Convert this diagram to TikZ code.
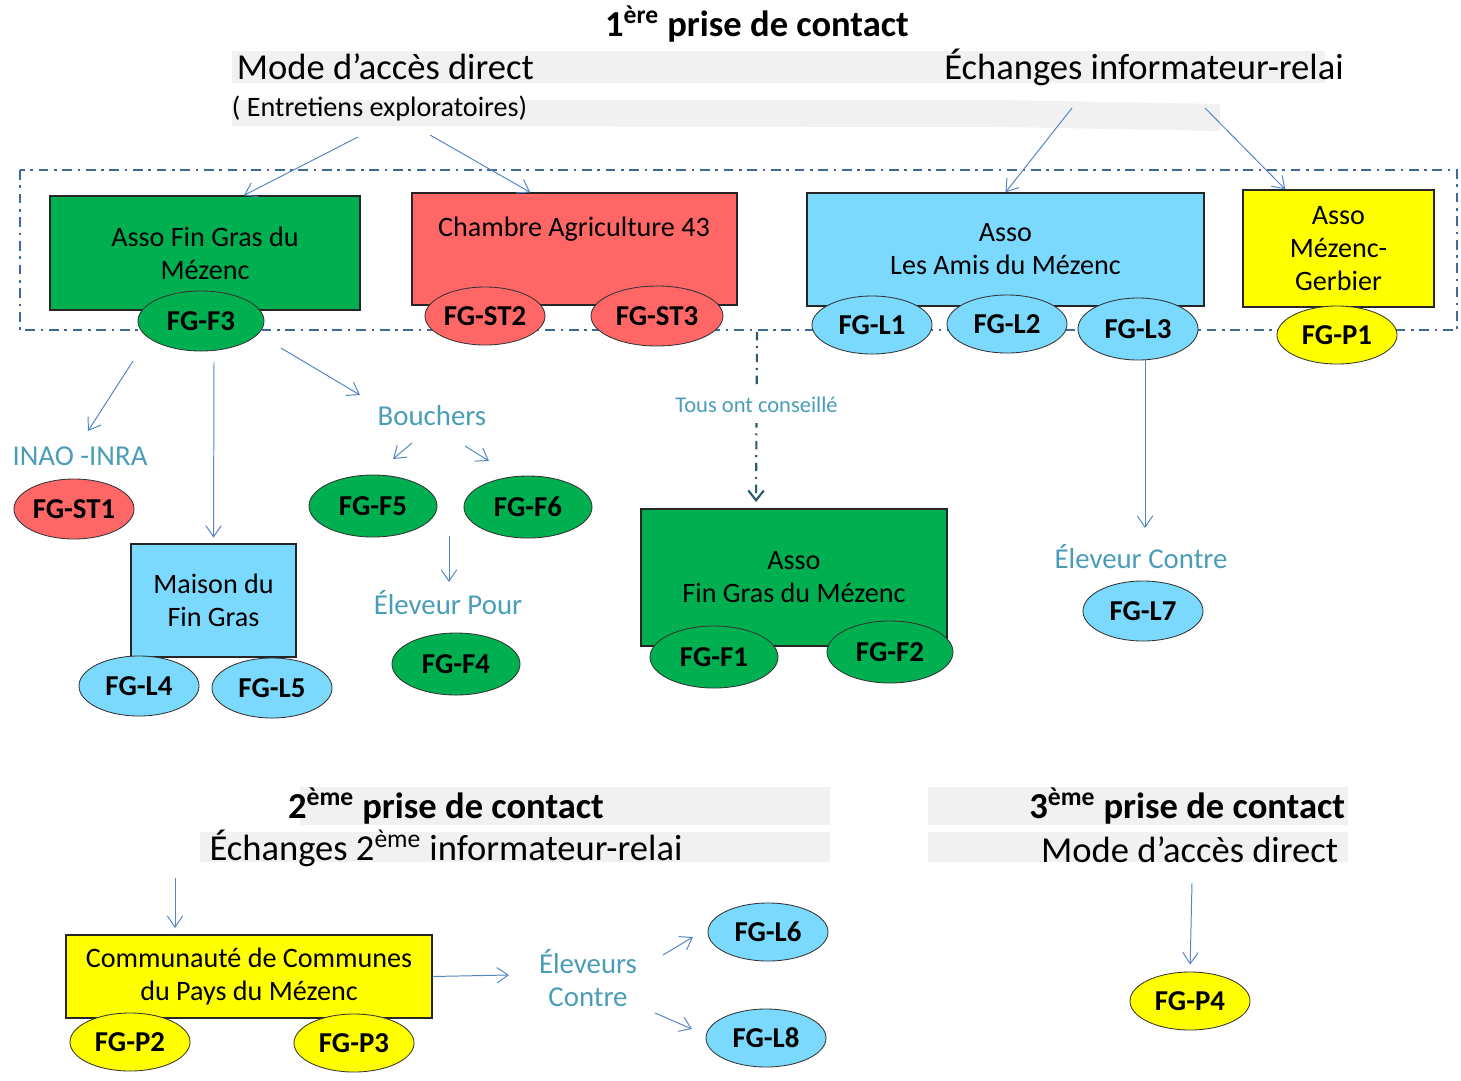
\documentclass[tikz,border=0pt]{standalone}
\usepackage{fontspec}
\setmainfont{Carlito}
\usetikzlibrary{shapes.geometric,arrows.meta}
\definecolor{greenfg}{HTML}{00B050}
\definecolor{redfg}{HTML}{FF6666}
\definecolor{bluefg}{HTML}{7AD9FC}
\definecolor{yellowfg}{HTML}{FFFF00}
\definecolor{tealtxt}{HTML}{4A9DB8}
\definecolor{arrblue}{HTML}{5585C4}
\definecolor{boxblue}{HTML}{3F6A98}
\definecolor{darkteal}{HTML}{2B5A68}
\definecolor{bandgray}{HTML}{F1F1F1}

\begin{document}
\begin{tikzpicture}[x=0.025cm,y=-0.025cm,
    box/.style={draw=black!85, line width=0.9pt, align=center, inner sep=0pt,
        font=\fontsize{20}{23.5}\selectfont},
    fg/.style={ellipse, draw=black!80, line width=0.6pt, inner sep=0pt,
        minimum width=3cm, minimum height=1.5cm, font=\fontsize{20.5}{24}\selectfont\bfseries},
    fgw/.style={fg, minimum width=3.2cm, minimum height=1.55cm},
    lbl/.style={text=tealtxt, align=center, font=\fontsize{20.5}{23.5}\selectfont},
    head/.style={font=\fontsize{26}{30}\selectfont},
    headb/.style={font=\fontsize{26}{30}\selectfont\bfseries},
    arr/.style={draw=arrblue, line width=0.7pt, -{Straight Barb[length=8pt,width=11pt]}}]
    \useasboundingbox (0,0) rectangle (1461,1080);
    % grey bands behind the headings
    \fill[bandgray] (232,51) rectangle (1325,83);
    \fill[bandgray] (232,100) -- (1000,100) -- (1220,104) -- (1220,131) -- (1000,127) -- (232,126) -- cycle;
    \fill[bandgray] (300,787) rectangle (830,825);
    \fill[bandgray] (200,832) rectangle (830,862);
    \fill[bandgray] (928,787) rectangle (1348,825);
    \fill[bandgray] (928,832) rectangle (1348,862);
    % 1ere prise de contact
    \node[headb] (t1) at (757,24) {1\textsuperscript{ère} prise de contact};
    \node[head, anchor=west] (mad1) at (232,67) {Mode d’accès direct};
    \node[head] (eir) at (1144,67) {Échanges informateur-relai};
    \node[anchor=west, font=\fontsize{20}{24}\selectfont] (ent) at (227,108) {( Entretiens exploratoires)};
    \draw[boxblue, line width=1.5pt, dash pattern=on 7pt off 4pt on 1.8pt off 4pt] (20,170) rectangle (1457,330);
    % structures
    \node[box, fill=greenfg, minimum width=7.75cm, minimum height=2.85cm] (fgm) at (205,253) {Asso Fin Gras du\\Mézenc};
    \node[box, fill=redfg, minimum width=8.125cm, minimum height=2.8cm] (cha) at (574.5,249) {};
    \node[font=\fontsize{20}{24}\selectfont] (chat) at (574,229) {Chambre Agriculture 43};
    \node[box, fill=bluefg, minimum width=9.925cm, minimum height=2.825cm] (ami) at (1005.5,249.5) {Asso\\Les Amis du Mézenc};
    \node[box, fill=yellowfg, minimum width=4.775cm, minimum height=2.925cm] (meg) at (1338.5,248.5) {Asso\\Mézenc-\\Gerbier};
    \node[fg, fill=greenfg, minimum width=3.15cm] (f3) at (201,321) {FG-F3};
    \node[fg, fill=redfg, minimum height=1.45cm] (st2) at (485,316) {FG-ST2};
    \node[fg, fill=redfg, minimum width=3.3cm] (st3) at (657,316) {FG-ST3};
    \node[fg, fill=bluefg, minimum height=1.45cm] (l1) at (872,325) {FG-L1};
    \node[fg, fill=bluefg, minimum height=1.45cm] (l2) at (1007,324) {FG-L2};
    \node[fg, fill=bluefg, minimum height=1.55cm] (l3) at (1138,329) {FG-L3};
    \node[fg, fill=yellowfg, minimum height=1.45cm] (p1) at (1337,335) {FG-P1};
    % sous la 1ere prise
    \node[lbl] (inao) at (80,456) {INAO -INRA};
    \node[fg, fill=redfg] (st1) at (74,509) {FG-ST1};
    \node[box, fill=bluefg, minimum width=4.125cm, minimum height=2.825cm] (mai) at (213.5,600.5) {Maison du\\Fin Gras};
    \node[fg, fill=bluefg] (l4) at (139,686) {FG-L4};
    \node[fg, fill=bluefg] (l5) at (272,688) {FG-L5};
    \node[lbl] (bou) at (432,416) {Bouchers};
    \node[fgw, fill=greenfg] (f5) at (373,506) {FG-F5};
    \node[fgw, fill=greenfg] (f6) at (528,507) {FG-F6};
    \node[lbl] (epo) at (448,603) {Éleveur Pour};
    \node[fgw, fill=greenfg] (f4) at (456,664) {FG-F4};
    \node[box, fill=greenfg, minimum width=7.65cm, minimum height=3.425cm] (fgm2) at (794,577.5) {Asso\\Fin Gras du Mézenc};
    \node[fgw, fill=greenfg] (f1) at (714,657) {FG-F1};
    \node[fgw, fill=greenfg, minimum width=3.15cm] (f2) at (890,652) {FG-F2};
    \node[lbl] (eco) at (1141,557) {Éleveur Contre};
    \node[fg, fill=bluefg] (l7) at (1143,611) {FG-L7};
    % 2eme et 3eme prise de contact
    \node[headb] (t2) at (446,806) {2\textsuperscript{ème} prise de contact};
    \node[head] (e2) at (446,848) {Échanges 2\textsuperscript{ème} informateur-relai};
    \node[headb, anchor=east] (t3) at (1350,806) {3\textsuperscript{ème} prise de contact};
    \node[head, anchor=east] (mad3) at (1343,850) {Mode d’accès direct};
    \node[box, fill=yellowfg, minimum width=9.15cm, minimum height=2.075cm] (ccm) at (249,976.5) {Communauté de Communes\\du Pays du Mézenc};
    \node[fg, fill=yellowfg, minimum height=1.45cm] (p2) at (130,1042) {FG-P2};
    \node[fg, fill=yellowfg, minimum height=1.45cm] (p3) at (354,1043) {FG-P3};
    \node[lbl] (elc) at (588,978) {Éleveurs\\Contre};
    \node[fg, fill=bluefg, minimum height=1.45cm] (l6) at (768,932) {FG-L6};
    \node[fg, fill=bluefg, minimum height=1.45cm] (l8) at (766,1038) {FG-L8};
    \node[fg, fill=yellowfg, minimum height=1.45cm] (p4) at (1190,1001) {FG-P4};
    % free ends of the arrows
    \coordinate (h1) at (358,137);
    \coordinate (h2) at (430,135);
    \coordinate (h3) at (1072,108);
    \coordinate (h4) at (1205,108);
    \coordinate (a5s) at (133,361);
    \coordinate (a5e) at (88,431);
    \coordinate (a6s) at (214,362);
    \coordinate (a7s) at (281,348);
    \coordinate (a7e) at (360,395);
    \coordinate (a8s) at (412,443);
    \coordinate (a8e) at (393,459);
    \coordinate (a9s) at (465,446);
    \coordinate (a9e) at (489,461);
    \coordinate (a10s) at (449,536);
    \coordinate (a10e) at (449,582);
    \coordinate (tous1) at (757,332);
    \coordinate (tous2) at (756,502);
    \coordinate (a12s) at (1145,360);
    \coordinate (a12e) at (1145,528);
    \coordinate (a13s) at (175,878);
    \coordinate (a13e) at (175,928);
    \coordinate (a14e) at (509,975);
    \coordinate (a15s) at (663,955);
    \coordinate (a15e) at (693,937);
    \coordinate (a16s) at (655,1013);
    \coordinate (a16e) at (692,1029);
    \coordinate (a17s) at (1192,883);
    % arrows
    \draw[arr] (h1) -- (fgm.56);
    \draw[arr] (h2) -- (cha.128);
    \draw[arr] (h3) -- (ami.north);
    \draw[arr] (h4) -- (meg.132);
    \draw[arr] (a5s) -- (a5e);
    \draw[arr, shorten >=4pt] (a6s) -- (mai.north);
    \draw[arr] (a7s) -- (a7e);
    \draw[arr] (a8s) -- (a8e);
    \draw[arr] (a9s) -- (a9e);
    \draw[arr] (a10s) -- (a10e);
    \draw[darkteal, line width=1.5pt, dash pattern=on 6pt off 4pt on 1.5pt off 4pt,
        -{Straight Barb[length=7pt,width=11pt,line width=1.5pt]}] (tous1) -- (tous2)
        node[pos=0.43, fill=white, text=tealtxt, inner xsep=3pt, inner ysep=7pt, font=\fontsize{16}{19}\selectfont] (tous) {Tous ont conseillé};
    \draw[arr] (a12s) -- (a12e);
    \draw[arr] (a13s) -- (a13e);
    \draw[arr] (ccm.east) -- (a14e);
    \draw[arr] (a15s) -- (a15e);
    \draw[arr] (a16s) -- (a16e);
    \draw[arr, shorten >=5pt] (a17s) -- (p4.north);
\end{tikzpicture}
\end{document}
